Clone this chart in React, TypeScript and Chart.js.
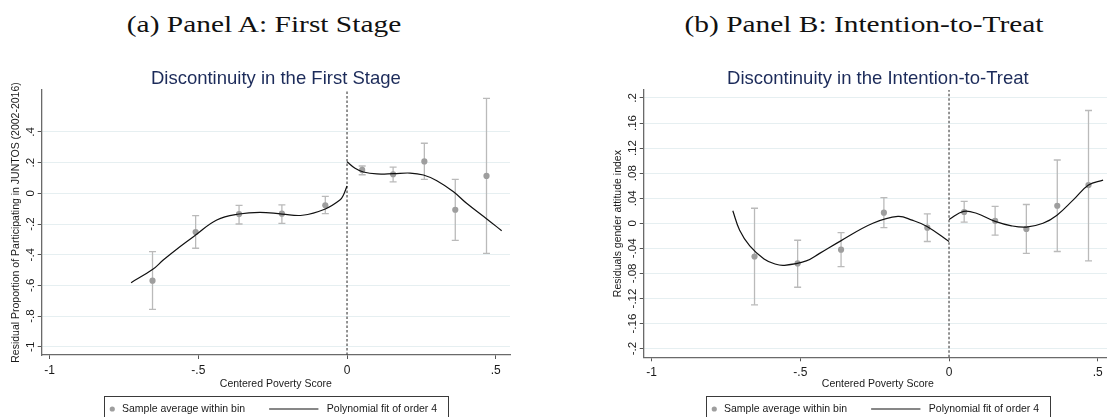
import React, { useEffect, useRef } from 'react';
import { Chart, registerables } from 'chart.js';

Chart.register(...registerables);

// ---------- shared data ----------
const BIN_X = [-0.654, -0.509, -0.363, -0.219, -0.073, 0.051, 0.155, 0.26, 0.364, 0.469];
const X_TICKS = [-1, -0.5, 0, 0.5];
const X_TICK_LABELS = ['-1', '-.5', '0', '.5'];
const X_MIN = -1.0266;
const X_MAX = 0.548;
const CUTOFF = 0;
const X_TITLE = 'Centered Poverty Score';
const POINT_LABEL = 'Sample average within bin';
const FIT_LABEL = 'Polynomial fit of order 4';

// ---------- Panel A: First Stage ----------
const A_CAPTION = '(a) Panel A: First Stage';
const A_TITLE = 'Discontinuity in the First Stage';
const A_Y_TITLE = 'Residual Proportion of Participating in JUNTOS (2002-2016)';
const A_Y_TICKS = [-1, -0.8, -0.6, -0.4, -0.2, 0, 0.2, 0.4];
const A_Y_TICK_LABELS = ['-1', '-.8', '-.6', '-.4', '-.2', '0', '.2', '.4'];
const A_Y_MIN = -1.0534;
const A_Y_MAX = 0.673;
const A_MEAN = [-0.569, -0.252, -0.135, -0.133, -0.078, 0.152, 0.124, 0.208, -0.107, 0.113];
const A_LO = [-0.756, -0.358, -0.2, -0.196, -0.133, 0.121, 0.074, 0.091, -0.306, -0.391];
const A_HI = [-0.38, -0.146, -0.078, -0.076, -0.02, 0.178, 0.171, 0.326, 0.091, 0.619];
const A_FIT_L_X = [-0.726, -0.653, -0.618, -0.562, -0.509, -0.438, -0.363, -0.293, -0.218, -0.15, -0.073, -0.024, -0.012, 0];
const A_FIT_L_Y = [-0.582, -0.495, -0.435, -0.348, -0.272, -0.174, -0.135, -0.124, -0.135, -0.143, -0.102, -0.044, -0.011, 0.048];
const A_FIT_R_X = [0, 0.027, 0.055, 0.1, 0.156, 0.212, 0.257, 0.302, 0.358, 0.402, 0.47, 0.52];
const A_FIT_R_Y = [0.206, 0.163, 0.139, 0.126, 0.128, 0.132, 0.119, 0.082, 0.01, -0.065, -0.167, -0.244];

// ---------- Panel B: Intention-to-Treat ----------
const B_CAPTION = '(b) Panel B: Intention-to-Treat';
const B_TITLE = 'Discontinuity in the Intention-to-Treat';
const B_Y_TITLE = 'Residuals gender attitude index';
const B_Y_TICKS = [-0.2, -0.16, -0.12, -0.08, -0.04, 0, 0.04, 0.08, 0.12, 0.16, 0.2];
const B_Y_TICK_LABELS = ['-.2', '-.16', '-.12', '-.08', '-.04', '0', '.04', '.08', '.12', '.16', '.2'];
const B_Y_MIN = -0.2138;
const B_Y_MAX = 0.2127;
const B_MEAN = [-0.053, -0.064, -0.042, 0.017, -0.007, 0.018, 0.004, -0.009, 0.028, 0.061];
const B_LO = [-0.13, -0.102, -0.069, -0.007, -0.029, 0.002, -0.019, -0.048, -0.045, -0.06];
const B_HI = [0.024, -0.027, -0.015, 0.041, 0.015, 0.035, 0.027, 0.03, 0.101, 0.18];
const B_FIT_L_X = [-0.727, -0.704, -0.67, -0.622, -0.585, -0.553, -0.48, -0.435, -0.364, -0.256, -0.172, -0.124, -0.074, 0];
const B_FIT_L_Y = [0.02, -0.011, -0.036, -0.057, -0.065, -0.067, -0.06, -0.048, -0.028, 0.0, 0.011, 0.005, -0.005, -0.029];
const B_FIT_R_X = [0, 0.049, 0.092, 0.155, 0.21, 0.26, 0.316, 0.363, 0.417, 0.469, 0.518];
const B_FIT_R_Y = [0.006, 0.019, 0.016, 0.003, -0.004, -0.006, 0.0, 0.013, 0.037, 0.061, 0.069];

// ---------- styles ----------
const SANS = "'Liberation Sans', Arial, Helvetica, sans-serif";
const TITLE_COLOR = '#1c2b5a';
const TEXT_COLOR = '#1a1a1a';
const AXIS_COLOR = '#6a6a6a';
const GRID_COLOR = '#e6eff1';
const POINT_COLOR = '#9e9e9e';
const ERR_COLOR = '#bababa';
const FIT_COLOR = '#111111';
const CUT_COLOR = '#4a4a4a';

const CANVAS_W = 552;
const CANVAS_H = 367;

const stataLegend = {
  id: 'stataLegend',
  afterDraw(chart: any) {
    const { ctx, chartArea } = chart;
    const ds = chart.data.datasets;
    const ptDs = ds.find((d: any) => d.legendRole === 'point');
    const lnDs = ds.find((d: any) => d.legendRole === 'line');
    if (!ptDs || !lnDs) return;
    const l1 = ptDs.label;
    const l2 = lnDs.label;
    ctx.save();
    ctx.font = `10.5px ${SANS}`;
    const w1 = ctx.measureText(l1).width;
    const w2 = ctx.measureText(l2).width;
    const total = 8.3 + 9.7 + w1 + 24 + 49.3 + 8.4 + w2 + 10.6;
    const cx = (chartArea.left + chartArea.right) / 2;
    const left = cx - total / 2;
    const top = chart.height - 21.3;
    const ty = chart.height - 8;
    ctx.strokeStyle = '#3a3a3a';
    ctx.lineWidth = 1;
    ctx.strokeRect(Math.round(left) + 0.5, Math.round(top) + 0.5, Math.round(total), 40);
    ctx.fillStyle = POINT_COLOR;
    ctx.beginPath();
    ctx.arc(left + 8.3, ty, 2.6, 0, Math.PI * 2);
    ctx.fill();
    ctx.fillStyle = TEXT_COLOR;
    ctx.textBaseline = 'middle';
    ctx.textAlign = 'left';
    const t1x = left + 18;
    ctx.fillText(l1, t1x, ty);
    const ls = t1x + w1 + 24;
    ctx.beginPath();
    ctx.moveTo(ls, ty);
    ctx.lineTo(ls + 49.3, ty);
    ctx.strokeStyle = FIT_COLOR;
    ctx.lineWidth = 1.2;
    ctx.stroke();
    ctx.fillText(l2, ls + 49.3 + 8.4, ty);
    ctx.restore();
  },
};

type PanelProps = {
  caption: string;
  title: string;
  yTitle: string;
  yTicks: number[];
  yTickLabels: string[];
  yMin: number;
  yMax: number;
  mean: number[];
  lo: number[];
  hi: number[];
  fitLX: number[];
  fitLY: number[];
  fitRX: number[];
  fitRY: number[];
  left: number;
  captionX: number;
  chartBottom: number;
  yTickPad: number;
};

function Panel(p: PanelProps) {
  const ref = useRef<HTMLCanvasElement | null>(null);
  useEffect(() => {
    if (!ref.current) return;
    const errData: any[] = [];
    BIN_X.forEach((x, i) => {
      errData.push({ x, y: p.lo[i] }, { x, y: p.hi[i] }, { x, y: null });
    });
    const lineBase = {
      type: 'line',
      borderColor: FIT_COLOR,
      borderWidth: 1.2,
      pointRadius: 0,
      tension: 0.4,
      fill: false,
      order: 0,
    };
    const chart = new Chart(ref.current, {
      type: 'scatter',
      data: {
        datasets: [
          {
            ...lineBase,
            label: FIT_LABEL,
            legendRole: 'line',
            data: p.fitLX.map((x, i) => ({ x, y: p.fitLY[i] })),
          } as any,
          {
            ...lineBase,
            label: FIT_LABEL + ' (right)',
            data: p.fitRX.map((x, i) => ({ x, y: p.fitRY[i] })),
          } as any,
          {
            label: POINT_LABEL,
            legendRole: 'point',
            data: BIN_X.map((x, i) => ({ x, y: p.mean[i] })),
            pointRadius: 3.1,
            pointBackgroundColor: POINT_COLOR,
            pointBorderWidth: 0,
            pointBorderColor: POINT_COLOR,
            order: 1,
          } as any,
          {
            type: 'line',
            label: 'CI',
            data: errData,
            borderColor: ERR_COLOR,
            borderWidth: 1.3,
            pointStyle: 'line',
            pointRadius: 3.5,
            pointBorderColor: ERR_COLOR,
            pointBorderWidth: 1.3,
            spanGaps: false,
            tension: 0,
            order: 2,
          } as any,
          {
            type: 'line',
            label: 'Cutoff',
            data: [
              { x: CUTOFF, y: p.yMin },
              { x: CUTOFF, y: p.yMax },
            ],
            borderColor: CUT_COLOR,
            borderWidth: 1.2,
            borderDash: [2.5, 2],
            pointRadius: 0,
            order: 3,
          } as any,
        ],
      },
      options: {
        animation: false,
        responsive: false,
        events: [],
        layout: { padding: { left: 0, right: 42, top: 0, bottom: 27 } },
        plugins: {
          legend: { display: false },
          tooltip: { enabled: false },
          title: {
            display: true,
            fullSize: false,
            text: p.title,
            color: TITLE_COLOR,
            font: { family: SANS, size: 18.5, weight: 'normal' },
            padding: { top: 17.8, bottom: 0 },
          },
        },
        scales: {
          x: {
            type: 'linear',
            bounds: 'data',
            min: X_MIN,
            max: X_MAX,
            afterBuildTicks: (s: any) => {
              s.ticks = X_TICKS.map((v) => ({ value: v }));
            },
            afterFit: (s: any) => {
              s.height = 340 - p.chartBottom;
            },
            ticks: {
              autoSkip: false,
              maxRotation: 0,
              padding: 4.5,
              color: TEXT_COLOR,
              font: { family: SANS, size: 12 },
              callback: (_v: any, i: number) => X_TICK_LABELS[i],
            },
            grid: {
              drawOnChartArea: false,
              drawTicks: true,
              tickLength: 4,
              tickColor: '#555',
              tickWidth: 1,
            },
            border: { display: true, color: AXIS_COLOR, width: 1.3 },
            title: {
              display: true,
              text: X_TITLE,
              color: TEXT_COLOR,
              font: { family: SANS, size: 10.5 },
              padding: { top: 0, bottom: 0 },
            },
          },
          y: {
            type: 'linear',
            bounds: 'data',
            min: p.yMin,
            max: p.yMax,
            afterBuildTicks: (s: any) => {
              s.ticks = p.yTicks.map((v) => ({ value: v }));
            },
            afterFit: (s: any) => {
              s.width = 41.7;
            },
            ticks: {
              autoSkip: false,
              minRotation: 90,
              maxRotation: 90,
              crossAlign: 'center',
              padding: p.yTickPad,
              color: TEXT_COLOR,
              font: { family: SANS, size: 11.5 },
              callback: (_v: any, i: number) => p.yTickLabels[i],
            },
            grid: {
              color: GRID_COLOR,
              lineWidth: 1,
              drawTicks: true,
              tickLength: 4,
              tickColor: '#555',
              tickWidth: 1,
            },
            border: { display: true, color: AXIS_COLOR, width: 1.3 },
            title: {
              display: true,
              text: p.yTitle,
              color: TEXT_COLOR,
              font: { family: SANS, size: 10.5 },
              padding: { top: 9.7, bottom: 0 },
            },
          },
        },
      } as any,
      plugins: [stataLegend],
    });
    return () => chart.destroy();
  }, []);

  return (
    <>
      <div
        style={{
          position: 'absolute',
          left: p.captionX - 250,
          top: 11.6,
          width: 500,
          textAlign: 'center',
          fontFamily: "'Liberation Serif', 'Times New Roman', serif",
          fontSize: 24,
          lineHeight: '24px',
          color: '#111',
          whiteSpace: 'nowrap',
          transform: 'scaleX(1.225)',
          transformOrigin: '50% 50%',
        }}
      >
        {p.caption}
      </div>
      <canvas
        ref={ref}
        width={CANVAS_W}
        height={CANVAS_H}
        style={{
          position: 'absolute',
          left: p.left,
          top: 50,
          width: CANVAS_W,
          height: CANVAS_H,
          display: 'block',
        }}
      />
    </>
  );
}

export default function App() {
  return (
    <div
      style={{
        position: 'absolute',
        left: 0,
        top: 0,
        width: 1107,
        height: 417,
        overflow: 'hidden',
        background: '#ffffff',
      }}
    >
      <Panel
        caption={A_CAPTION}
        title={A_TITLE}
        yTitle={A_Y_TITLE}
        yTicks={A_Y_TICKS}
        yTickLabels={A_Y_TICK_LABELS}
        yMin={A_Y_MIN}
        yMax={A_Y_MAX}
        mean={A_MEAN}
        lo={A_LO}
        hi={A_HI}
        fitLX={A_FIT_L_X}
        fitLY={A_FIT_L_Y}
        fitRX={A_FIT_R_X}
        fitRY={A_FIT_R_Y}
        left={0}
        captionX={264.2}
        chartBottom={305}
        yTickPad={0.6}
      />
      <Panel
        caption={B_CAPTION}
        title={B_TITLE}
        yTitle={B_Y_TITLE}
        yTicks={B_Y_TICKS}
        yTickLabels={B_Y_TICK_LABELS}
        yMin={B_Y_MIN}
        yMax={B_Y_MAX}
        mean={B_MEAN}
        lo={B_LO}
        hi={B_HI}
        fitLX={B_FIT_L_X}
        fitLY={B_FIT_L_Y}
        fitRX={B_FIT_R_X}
        fitRY={B_FIT_R_Y}
        left={602}
        captionX={864.2}
        chartBottom={307.3}
        yTickPad={-2.7}
      />
    </div>
  );
}
